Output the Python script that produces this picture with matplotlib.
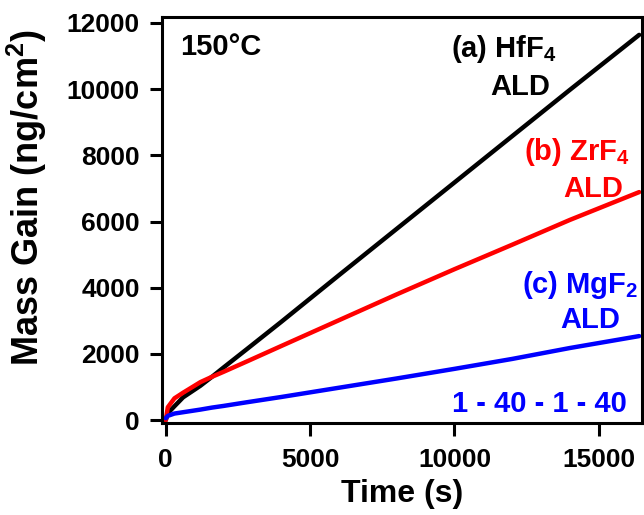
import matplotlib.pyplot as plt

plt.rcParams["font.family"] = ["Liberation Sans", "DejaVu Sans"]
plt.rcParams["font.weight"] = "bold"
plt.rcParams["mathtext.fontset"] = "custom"
plt.rcParams["mathtext.rm"] = "Liberation Sans:bold"
plt.rcParams["mathtext.default"] = "rm"

# time (s) and mass gain (ng/cm^2)
time_s = [0, 70, 300, 600, 1200, 1600, 2000, 2800, 4000, 6000, 8000, 10000, 12000, 14000, 16400]
hff4 = [0, 210, 420, 690, 1040, 1310, 1590, 2140, 2970, 4380, 5780, 7180, 8580, 9980, 11640]
zrf4 = [0, 390, 660, 830, 1150, 1310, 1460, 1770, 2240, 3020, 3800, 4560, 5300, 6050, 6890]
mgf2 = [60, 130, 200, 240, 320, 380, 430, 540, 700, 980, 1260, 1550, 1850, 2180, 2540]

fig = plt.figure(figsize=(6.44, 5.15), dpi=100)
ax = fig.add_axes([0.2516, 0.179, 0.7454, 0.788])

ax.plot(time_s, hff4, color="black", lw=3.2, solid_capstyle="round")
ax.plot(time_s, zrf4, color="#ff0000", lw=3.2, solid_capstyle="round")
ax.plot(time_s, mgf2, color="#0000ff", lw=3.2, solid_capstyle="round")

ax.set_xlim(-130, 16500)
ax.set_ylim(-80, 12180)
ax.set_xticks([0, 5000, 10000, 15000])
ax.set_yticks(range(0, 12001, 2000))

for s in ax.spines.values():
    s.set_linewidth(2.2)
ax.tick_params(direction="out", length=9, width=2.2, labelsize=19)
ax.tick_params(axis="y", pad=7)
ax.tick_params(axis="x", pad=9)
for lab in ax.get_xticklabels() + ax.get_yticklabels():
    lab.set_fontweight("bold")

ax.set_xlabel("Time (s)", fontsize=23, fontweight="bold", labelpad=5)
ax.set_ylabel("Mass Gain (ng/cm$^2$)", fontsize=26, fontweight="bold")
ax.yaxis.set_label_coords(-0.235, 0.555)

kw = dict(fontsize=21, fontweight="bold", transform=ax.transAxes, va="baseline")
ax.text(0.0375, 0.906, "150°C", ha="left", **kw)
ax.text(0.821, 0.901, "(a) HfF$_4$", ha="right", color="black", **kw)
ax.text(0.808, 0.808, "ALD", ha="right", color="black", **kw)
ax.text(0.975, 0.648, "(b) ZrF$_4$", ha="right", color="#ff0000", **kw)
ax.text(0.960, 0.557, "ALD", ha="right", color="#ff0000", **kw)
ax.text(0.992, 0.320, "(c) MgF$_2$", ha="right", color="#0000ff", **kw)
ax.text(0.954, 0.234, "ALD", ha="right", color="#0000ff", **kw)
ax.text(0.969, 0.027, "1 - 40 - 1 - 40", ha="right", color="#0000ff", **kw)

plt.savefig("out.png", dpi=100)
